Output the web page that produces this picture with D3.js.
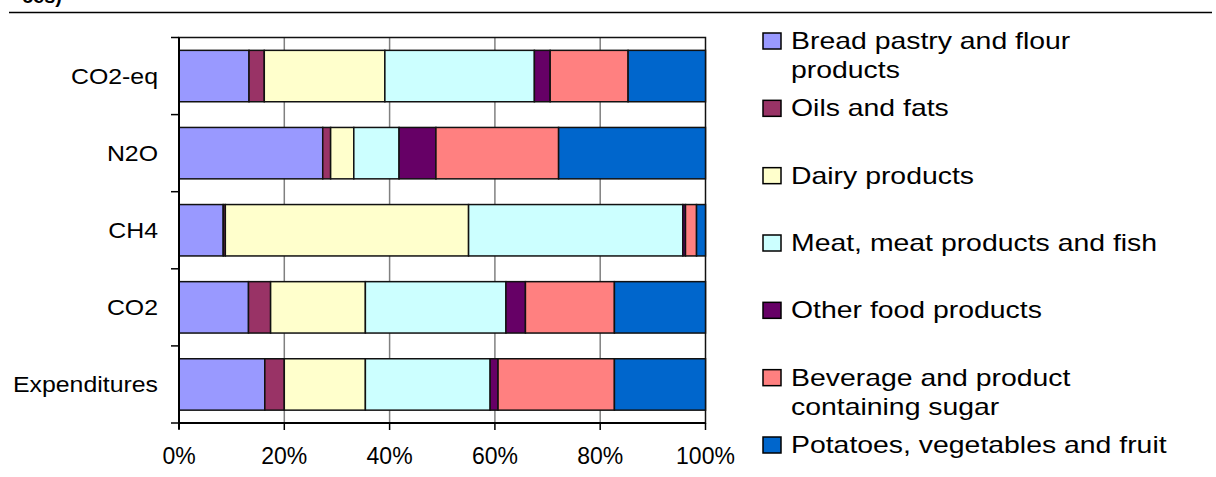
<!DOCTYPE html>
<html>
<head>
<meta charset="utf-8">
<script src="https://d3js.org/d3.v7.min.js"></script>
<style>
  body { margin: 0; background: #fff; }
  text { font-family: "Liberation Sans", Arial, sans-serif; fill: #000; }
</style>
</head>
<body>
<div class="wrapper"></div>
<script>
// categories, top to bottom
var categories = ["CO2-eq", "N2O", "CH4", "CO2", "Expenditures"];

// series names (legend order = stacking order)
var series = ["Bread pastry and flour products", "Oils and fats", "Dairy products",
  "Meat, meat products and fish", "Other food products",
  "Beverage and product containing sugar", "Potatoes, vegetables and fruit"];
var legendLines = [["Bread pastry and flour", "products"], ["Oils and fats"], ["Dairy products"],
  ["Meat, meat products and fish"], ["Other food products"],
  ["Beverage and product", "containing sugar"], ["Potatoes, vegetables and fruit"]];
var colors = ["#9999ff", "#993366", "#ffffcc", "#ccffff", "#660066", "#ff8080", "#0066cc"];

// shares in % per category, in series order
var co2eq        = [13.3, 2.9, 22.9, 28.4, 3.0, 14.8, 14.7];
var n2o          = [27.3, 1.5, 4.4, 8.6, 7.0, 23.3, 27.9];
var ch4          = [8.4, 0.4, 46.2, 40.7, 0.5, 2.1, 1.7];
var co2          = [13.2, 4.2, 18.0, 26.7, 3.7, 16.9, 17.3];
var expenditures = [16.3, 3.7, 15.4, 23.7, 1.5, 22.1, 17.3];

var xTicks = [0, 20, 40, 60, 80, 100];

var W = 1216, H = 477;
var svg = d3.select(".wrapper").append("svg")
  .attr("width", W).attr("height", H);

// cut-off title fragment and rule at the top
svg.append("text").attr("x", 22).attr("y", 3)
  .style("font-size", "20px").style("font-weight", "bold").text("ces)");
svg.append("line").attr("x1", 9).attr("x2", 1212).attr("y1", 12.5).attr("y2", 12.5)
  .attr("stroke", "#000").attr("stroke-width", 1.5);

var plot = {left: 179, right: 705.5, top: 37.5, bottom: 423};

var x = d3.scaleLinear().domain([0, 100]).range([plot.left, plot.right]);
var y = d3.scaleBand().domain(categories).range([plot.top, plot.bottom])
  .paddingInner(1 / 3).paddingOuter(1 / 6);

// build stacked table
var rows = [co2eq, n2o, ch4, co2, expenditures].map(function(vals, i) {
  var r = {cat: categories[i]};
  series.forEach(function(s, j) { r[s] = vals[j]; });
  return r;
});
var stacked = d3.stack().keys(series)(rows);

// gridlines
svg.append("g").selectAll("line").data(xTicks.slice(1, -1)).enter().append("line")
  .attr("x1", function(d) { return x(d); }).attr("x2", function(d) { return x(d); })
  .attr("y1", plot.top).attr("y2", plot.bottom)
  .attr("stroke", "#808080").attr("stroke-width", 1.5);

// plot border
svg.append("rect").attr("x", plot.left).attr("y", plot.top)
  .attr("width", plot.right - plot.left).attr("height", plot.bottom - plot.top)
  .attr("fill", "none").attr("stroke", "#111").attr("stroke-width", 1.5);

// bars
svg.append("g").selectAll("g").data(stacked).enter().append("g")
  .attr("fill", function(d, i) { return colors[i]; })
  .selectAll("rect").data(function(d) { return d; }).enter().append("rect")
  .attr("x", function(d) { return x(d[0]); })
  .attr("width", function(d) { return x(d[1]) - x(d[0]); })
  .attr("y", function(d) { return y(d.data.cat); })
  .attr("height", y.bandwidth())
  .attr("stroke", "#111").attr("stroke-width", 1.5);

// y axis
var yAxis = svg.append("g");
yAxis.append("line").attr("x1", plot.left).attr("x2", plot.left)
  .attr("y1", plot.top).attr("y2", plot.bottom + 6)
  .attr("stroke", "#000").attr("stroke-width", 2);
var bounds = categories.map(function(c) { return y(c) - y.step() * y.paddingInner() / 2; });
bounds.push(plot.bottom);
yAxis.selectAll(".tk").data(bounds).enter().append("line")
  .attr("x1", plot.left - 8).attr("x2", plot.left)
  .attr("y1", function(d) { return d; }).attr("y2", function(d) { return d; })
  .attr("stroke", "#000").attr("stroke-width", 1.5);
yAxis.selectAll("text").data(categories).enter().append("text")
  .attr("text-anchor", "end")
  .attr("transform", function(d) { return "translate(158," + (y(d) + y.bandwidth() / 2 + 8) + ") scale(1.13,1)"; })
  .style("font-size", "22px")
  .text(function(d) { return d; });

// x axis
var xAxis = svg.append("g");
xAxis.append("line").attr("x1", plot.left).attr("x2", plot.right)
  .attr("y1", plot.bottom).attr("y2", plot.bottom)
  .attr("stroke", "#000").attr("stroke-width", 2);
xAxis.selectAll(".tk").data(xTicks).enter().append("line")
  .attr("x1", function(d) { return x(d); }).attr("x2", function(d) { return x(d); })
  .attr("y1", plot.bottom).attr("y2", plot.bottom + 7)
  .attr("stroke", "#000").attr("stroke-width", 1.5);
xAxis.selectAll("text").data(xTicks).enter().append("text")
  .attr("x", function(d) { return x(d); }).attr("y", 464)
  .attr("text-anchor", "middle")
  .style("font-size", "23px")
  .text(function(d) { return d + "%"; });

// legend
var ly = d3.scalePoint().domain(series).range([49, 453]);
var leg = svg.append("g").selectAll("g").data(series).enter().append("g")
  .attr("transform", function(d) { return "translate(763," + ly(d) + ")"; });
leg.append("rect").attr("x", 0).attr("y", -16).attr("width", 18).attr("height", 16)
  .attr("fill", function(d, i) { return colors[i]; })
  .attr("stroke", "#000").attr("stroke-width", 1.5);
leg.append("text")
  .attr("transform", "translate(28,0) scale(1.235,1)")
  .style("font-size", "23px")
  .selectAll("tspan").data(function(d, i) { return legendLines[i]; }).enter().append("tspan")
  .attr("x", 0).attr("dy", function(d, i) { return i === 0 ? 0 : 29; })
  .text(function(d) { return d; });
</script>
</body>
</html>
